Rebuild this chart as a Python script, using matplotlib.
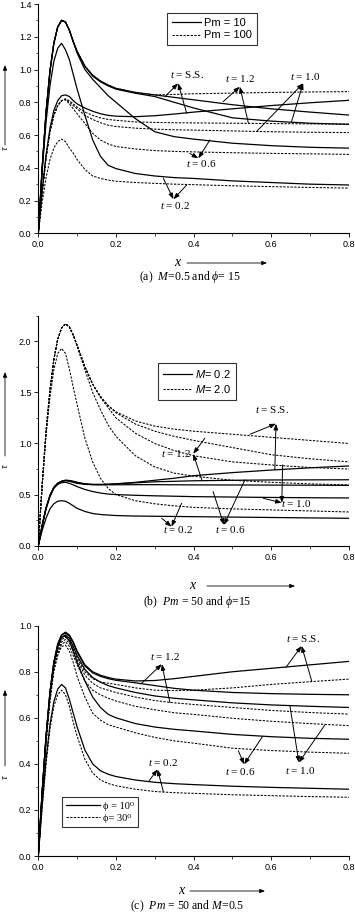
import matplotlib
matplotlib.use("Agg")
import matplotlib.pyplot as plt
from matplotlib.lines import Line2D
from matplotlib.ticker import MultipleLocator

plt.rcParams['mathtext.fontset'] = 'custom'
plt.rcParams['mathtext.rm'] = 'Liberation Serif'
plt.rcParams['mathtext.it'] = 'Liberation Serif:italic'
plt.rcParams['mathtext.sf'] = 'Liberation Sans:italic'
plt.rcParams['mathtext.fallback'] = 'stix'
plt.rcParams['font.family'] = ['Liberation Sans', 'DejaVu Sans']

# ---------------- data ----------------
X = [0, .01, .02, .03, .04, .05, .06, .07, .08, .09, .10, .12, .14, .16, .18, .20,
     .25, .30, .35, .40, .50, .60, .70, .80]
TIMES = ['0.2', '0.6', '1.0', '1.2', 'S.S.']

# (a) M=0.5, phi=15 : Pm=10 (solid), Pm=100 (dashed)
a_pm10 = [
    [0, .38, .68, .90, 1.05, 1.13, 1.16, 1.12, 1.06, .97, .88, .72, .57, .47, .415, .395, .365, .35, .34, .335, .32, .31, .30, .295],
    [0, .40, .74, .99, 1.16, 1.26, 1.30, 1.29, 1.24, 1.17, 1.10, 1.00, .94, .89, .84, .80, .70, .62, .59, .575, .55, .535, .525, .52],
    [0, .40, .74, .99, 1.16, 1.26, 1.30, 1.29, 1.24, 1.17, 1.11, 1.02, .96, .925, .90, .88, .855, .835, .80, .765, .705, .685, .672, .665],
    [0, .40, .74, .99, 1.16, 1.26, 1.30, 1.29, 1.24, 1.17, 1.11, 1.02, .965, .93, .905, .885, .86, .845, .83, .815, .785, .76, .74, .722],
    [0, .26, .48, .64, .75, .81, .84, .845, .835, .81, .79, .765, .745, .73, .72, .715, .712, .718, .728, .74, .76, .78, .797, .812],
]
a_pm100 = [
    [0, .19, .34, .45, .52, .56, .575, .56, .52, .49, .45, .39, .35, .335, .325, .318, .31, .305, .30, .297, .29, .285, .28, .276],
    [0, .25, .46, .62, .72, .78, .81, .815, .79, .76, .73, .67, .61, .57, .545, .53, .515, .505, .50, .497, .492, .488, .485, .482],
    [0, .25, .46, .62, .72, .78, .81, .82, .80, .78, .76, .72, .695, .675, .66, .652, .642, .636, .632, .63, .625, .62, .617, .615],
    [0, .25, .46, .62, .72, .78, .81, .82, .81, .79, .77, .74, .72, .705, .695, .69, .68, .677, .675, .674, .672, .67, .668, .667],
    [0, .40, .74, .99, 1.16, 1.26, 1.30, 1.29, 1.24, 1.17, 1.11, 1.02, .965, .93, .905, .885, .86, .845, .848, .852, .856, .86, .863, .865],
]

# (b) Pm=50, phi=15 : M=0.2 (solid), M=2.0 (dashed)
b_m02 = [
    [0, .15, .27, .36, .41, .435, .44, .435, .415, .39, .365, .335, .315, .305, .30, .295, .29, .288, .286, .284, .28, .276, .272, .268],
    [0, .19, .36, .48, .56, .60, .617, .62, .61, .595, .578, .55, .53, .515, .505, .50, .493, .488, .484, .48, .476, .472, .469, .467],
    [0, .20, .37, .49, .57, .61, .63, .635, .63, .62, .61, .60, .597, .596, .596, .596, .597, .597, .596, .595, .594, .593, .592, .59],
    [0, .20, .37, .49, .57, .61, .63, .64, .636, .628, .618, .605, .60, .60, .602, .605, .615, .625, .63, .635, .64, .643, .644, .645],
    [0, .20, .37, .49, .57, .61, .63, .64, .638, .63, .62, .605, .598, .597, .60, .605, .62, .64, .66, .685, .715, .74, .762, .78],
]
b_m20 = [
    [0, .58, 1.08, 1.45, 1.72, 1.88, 1.93, 1.88, 1.73, 1.55, 1.38, 1.05, .82, .66, .56, .50, .44, .41, .39, .375, .36, .35, .34, .33],
    [0, .60, 1.12, 1.52, 1.82, 2.02, 2.13, 2.17, 2.14, 2.06, 1.95, 1.72, 1.50, 1.33, 1.18, 1.07, .88, .77, .71, .68, .64, .62, .605, .595],
    [0, .60, 1.12, 1.52, 1.82, 2.02, 2.13, 2.17, 2.14, 2.06, 1.96, 1.75, 1.58, 1.45, 1.35, 1.25, 1.10, 1.00, .93, .88, .82, .79, .765, .75],
    [0, .60, 1.12, 1.52, 1.82, 2.02, 2.13, 2.17, 2.14, 2.06, 1.96, 1.75, 1.58, 1.46, 1.37, 1.30, 1.19, 1.12, 1.07, 1.03, .96, .89, .85, .82],
    [0, .60, 1.12, 1.52, 1.82, 2.02, 2.13, 2.17, 2.14, 2.06, 1.96, 1.75, 1.58, 1.46, 1.37, 1.31, 1.22, 1.17, 1.14, 1.12, 1.09, 1.06, 1.03, 1.00],
]

# (c) Pm=50, M=0.5 : phi=10 (solid), phi=30 (dashed)
c_phi10 = [
    [0, .22, .42, .57, .67, .725, .745, .73, .68, .62, .56, .46, .40, .37, .355, .345, .33, .32, .314, .31, .303, .298, .294, .29],
    [0, .28, .52, .70, .83, .91, .95, .955, .935, .89, .84, .76, .69, .645, .615, .60, .575, .56, .55, .543, .528, .518, .511, .507],
    [0, .28, .52, .71, .84, .91, .95, .96, .945, .91, .87, .81, .775, .755, .74, .73, .71, .695, .685, .678, .665, .656, .65, .645],
    [0, .28, .52, .71, .84, .92, .96, .968, .955, .925, .885, .825, .795, .78, .77, .763, .752, .74, .728, .72, .71, .705, .702, .70],
    [0, .28, .52, .71, .84, .92, .96, .972, .96, .93, .89, .83, .80, .785, .775, .768, .76, .762, .77, .78, .80, .815, .83, .845],
]
c_phi30 = [
    [0, .21, .40, .55, .65, .70, .72, .70, .65, .58, .52, .42, .36, .33, .315, .305, .29, .28, .275, .272, .266, .262, .258, .255],
    [0, .27, .49, .67, .80, .87, .91, .915, .89, .84, .78, .69, .62, .59, .57, .56, .535, .515, .50, .49, .468, .458, .451, .446],
    [0, .27, .50, .68, .81, .88, .92, .93, .91, .87, .83, .76, .72, .70, .685, .673, .65, .635, .622, .615, .598, .585, .575, .566],
    [0, .27, .50, .69, .82, .89, .93, .94, .925, .89, .85, .785, .75, .73, .72, .71, .69, .675, .665, .658, .645, .632, .623, .616],
    [0, .27, .50, .69, .82, .90, .94, .95, .935, .90, .86, .80, .77, .755, .75, .745, .73, .72, .718, .72, .73, .745, .757, .768],
]

# ---------------- figure ----------------
W, H = 355, 916
fig = plt.figure(figsize=(W / 100, H / 100), dpi=100)


def fx(px):
    return px / W


def fy(py):
    return 1 - py / H


def make_axes(top, bottom):
    left, right = 38.3, 349.0
    return fig.add_axes([fx(left), fy(bottom), fx(right) - fx(left), fy(top) - fy(bottom)])


SOLID = dict(color='k', lw=0.9, ls='-')
DASH = dict(color='k', lw=0.75, ls=(0, (2.2, 1.3)))
SERIF = ['Liberation Serif', 'DejaVu Serif']


def style_axes(ax, ymax, ymaj, ymin):
    ax.set_xlim(0, 0.8)
    ax.set_ylim(0, ymax)
    for s in ('top', 'right'):
        ax.spines[s].set_visible(False)
    for s in ('left', 'bottom'):
        ax.spines[s].set_linewidth(0.8)
    ax.xaxis.set_major_locator(MultipleLocator(0.2))
    ax.xaxis.set_minor_locator(MultipleLocator(0.1))
    ax.yaxis.set_major_locator(MultipleLocator(ymaj))
    ax.yaxis.set_minor_locator(MultipleLocator(ymin))
    ax.tick_params(which='major', length=3, width=0.6, labelsize=6.5, pad=2)
    ax.tick_params(which='minor', length=1.8, width=0.5)
    ax.xaxis.set_major_formatter(matplotlib.ticker.FormatStrFormatter('%.1f'))
    ax.yaxis.set_major_formatter(matplotlib.ticker.FormatStrFormatter('%.1f'))


def draw(ax, solid, dashed):
    for ys in dashed:
        ax.plot(X, ys, **DASH)
    for ys in solid:
        ax.plot(X, ys, **SOLID)


def label(ax, text, tpos, head, targets):
    ax.text(tpos[0], tpos[1], text, ha='center', va='center', fontsize=8,
            family=SERIF)
    for t in targets:
        ax.annotate('', xy=head, xytext=t,
                    arrowprops=dict(arrowstyle='-|>,head_length=0.35,head_width=0.13',
                                    lw=0.7, color='k', shrinkA=0, shrinkB=0))


def fig_arrow(p0, p1):
    fig.add_artist(matplotlib.patches.FancyArrowPatch(
        (fx(p0[0]), fy(p0[1])), (fx(p1[0]), fy(p1[1])), transform=fig.transFigure,
        arrowstyle='-|>,head_length=3,head_width=1.2', lw=0.6, color='k',
        shrinkA=0, shrinkB=0))


def decorations(tau_y, arrow_y0, arrow_y1, xlab, xa0, xa1, xy, cap, capx, capy):
    fig.text(fx(5), fy(tau_y), r'$\tau$', rotation=90, ha='center', va='center', fontsize=7.5)
    fig_arrow((5, arrow_y0), (5, arrow_y1))
    fig.text(fx(xlab), fy(xy), r'$x$', ha='center', va='baseline', fontsize=10)
    fig_arrow((xa0, xy - 3), (xa1, xy - 3))
    fig.text(fx(capx), fy(capy), cap, ha='center', va='center', fontsize=8.5, family=SERIF)


def legend(ax, labels, anchor, fontsize, family, handlelength):
    h = [Line2D([], [], **SOLID), Line2D([], [], **DASH)]
    lg = ax.legend(h, labels, loc='upper left', bbox_to_anchor=anchor, borderaxespad=0,
                   frameon=True, fancybox=False, handlelength=handlelength,
                   prop=dict(family=family, size=fontsize), borderpad=0.45,
                   labelspacing=0.25, handletextpad=0.3)
    lg.get_frame().set_edgecolor('k')
    lg.get_frame().set_linewidth(0.8)


# ---- (a)
axa = make_axes(4.0, 233.3)
style_axes(axa, 1.4, 0.2, 0.1)
draw(axa, a_pm10, a_pm100)
legend(axa, ['Pm = 10', 'Pm = 100'], (0.413, 0.962), 8, ['Liberation Sans'], 2.6)
label(axa, r'$t$ = S.S.', (0.382, 0.967), (0.36, 0.916), [(0.326, 0.834), (0.382, 0.733)])
label(axa, r'$t$ = 1.2', (0.519, 0.946), (0.519, 0.895), [(0.476, 0.804), (0.541, 0.672)])
label(axa, r'$t$ = 1.0', (0.687, 0.960), (0.682, 0.916), [(0.562, 0.621), (0.652, 0.682)])
label(axa, r'$t$ = 0.6', (0.42, 0.427), (0.412, 0.458), [(0.39, 0.488), (0.442, 0.57)])
label(axa, r'$t$ = 0.2', (0.352, 0.169), (0.348, 0.208), [(0.322, 0.336), (0.382, 0.295)])
decorations(148, 145, 65, 178, 187, 267, 266,
            r'(a)  $M$=0.5 and $\phi$= 15', 190, 277)

# ---- (b)
axb = make_axes(315.7, 545.7)
style_axes(axb, 2.25, 0.5, 0.25)
draw(axb, b_m02, b_m20)
legend(axb, [r'$\mathsf{M}$= 0.2', r'$\mathsf{M}$= 2.0'], (0.386, 0.793), 8,
       ['Liberation Sans'], 2.6)
label(axb, r'$t$ = S.S.', (0.601, 1.33), (0.612, 1.193), [(0.545, 1.09), (0.609, 0.742)])
label(axb, r'$t$ = 1.2', (0.356, 0.899), (0.399, 0.899), [(0.429, 1.052), (0.421, 0.644)])
label(axb, r'$t$ = 1.0', (0.665, 0.408), (0.627, 0.42), [(0.629, 0.79), (0.579, 0.464)])
label(axb, r'$t$ = 0.6', (0.494, 0.154), (0.478, 0.203), [(0.45, 0.53), (0.532, 0.644)])
label(axb, r'$t$ = 0.2', (0.36, 0.154), (0.343, 0.186), [(0.318, 0.268), (0.369, 0.415)])
decorations(466, 456, 372, 193, 207, 295, 589,
            r'(b)  $Pm$ = 50 and $\phi$=15', 197, 602)

# ---- (c)
axc = make_axes(625.7, 856.0)
style_axes(axc, 1.0, 0.2, 0.1)
draw(axc, c_phi10, c_phi30)
legend(axc, ['ϕ = 10⁰', 'ϕ= 30⁰'], (0.075, 0.257), 7.5, SERIF, 3.2)
label(axc, r'$t$ = S.S.', (0.682, 0.945), (0.678, 0.912), [(0.638, 0.82), (0.704, 0.76)])
label(axc, r'$t$ = 1.2', (0.326, 0.865), (0.318, 0.833), [(0.266, 0.75), (0.339, 0.666)])
label(axc, r'$t$ = 1.0', (0.674, 0.373), (0.671, 0.406), [(0.648, 0.651), (0.738, 0.569)])
label(axc, r'$t$ = 0.6', (0.519, 0.366), (0.53, 0.398), [(0.515, 0.457), (0.577, 0.518)])
label(axc, r'$t$ = 0.2', (0.322, 0.405), (0.307, 0.376), [(0.285, 0.326), (0.322, 0.279)])
decorations(777, 766, 690, 182, 190, 265, 894,
            r'(c)  $Pm$ = 50 and $M$=0.5', 187, 906)

fig.savefig('out.png', dpi=100)
